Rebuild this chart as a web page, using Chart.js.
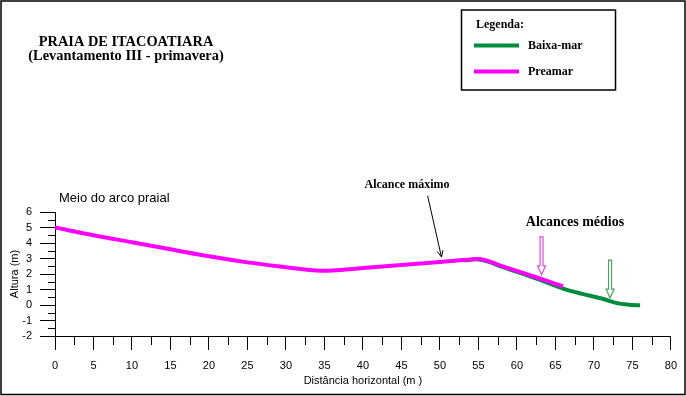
<!DOCTYPE html>
<html><head><meta charset="utf-8">
<script src="https://cdn.jsdelivr.net/npm/chart.js@4/dist/chart.umd.min.js"></script>
<style>html,body{margin:0;padding:0;background:#fff;} #wrap{width:686px;height:396px;position:relative;}</style>
</head><body><div id="wrap"><canvas id="c" width="686" height="396"></canvas></div>
<script>
// ---- data ----
const preamarX = [0, 5, 10, 15, 20, 25, 30, 34, 36, 40, 45, 50, 53, 55, 56.5, 58, 62, 66];
const preamarY = [5.0, 4.5, 4.05, 3.6, 3.14, 2.75, 2.44, 2.22, 2.22, 2.38, 2.58, 2.78, 2.9, 2.96, 2.8, 2.52, 1.87, 1.2];
const baixaX = [53, 55, 56.5, 58, 62, 66, 68.5, 71, 73, 74.5, 76];
const baixaY = [2.88, 2.94, 2.77, 2.47, 1.8, 1.06, 0.72, 0.42, 0.12, 0.02, -0.02];
const seriesNames = ['Preamar', 'Baixa-mar'];
const xTickStep = 5, yTickStep = 1;
const titleLines = ['PRAIA DE ITACOATIARA', '(Levantamento III - primavera)'];
const xTitle = 'Distância horizontal (m )';
const yTitle = 'Altura (m)';
// annotation anchors in data units
const maxArrowFrom = [48.4, 7.05], maxArrowTo = [50.2, 3.1];
const preamarArrow = [63.2, 4.4, 1.95];
const baixaArrow = [72.1, 2.9, 0.45];

const MAG = '#FF00FF', GRN = '#008C3C';
const toPts = (xs, ys) => xs.map((x, i) => ({x, y: ys[i]}));

const deco = {
  id: 'deco',
  beforeDraw(chart) {
    const c = chart.ctx; c.save(); c.fillStyle = '#fff'; c.fillRect(0, 0, chart.width, chart.height); c.restore();
  },
  afterDraw(chart) {
    const c = chart.ctx, xs = chart.scales.x, ys = chart.scales.y;
    const ca = chart.chartArea;
    c.save();
    // minor ticks
    c.strokeStyle = '#000'; c.lineWidth = 1;
    for (let v = 2.5; v < 80; v += 5) {
      const px = Math.round(xs.getPixelForValue(v)) + 0.5;
      c.beginPath(); c.moveTo(px, ca.bottom); c.lineTo(px, ca.bottom + 9); c.stroke();
    }
    for (let v = -1.5; v < 6; v += 1) {
      const py = Math.round(ys.getPixelForValue(v)) + 0.5;
      c.beginPath(); c.moveTo(ca.left, py); c.lineTo(ca.left - 7, py); c.stroke();
    }
    // outer frame
    c.lineWidth = 1.5; c.strokeRect(1, 1, 684, 393.5);
    // titles
    c.fillStyle = '#000'; c.textAlign = 'center'; c.textBaseline = 'middle';
    c.font = 'bold 14.4px "Liberation Serif"';
    c.fillText(titleLines[0], 126, 42);
    c.fillText(titleLines[1], 126, 56);
    // Meio do arco praial
    c.textAlign = 'left'; c.font = '13px "Liberation Sans"';
    c.fillText('Meio do arco praial', 59, 198);
    // Alcance maximo
    c.textAlign = 'center'; c.font = 'bold 12px "Liberation Serif"';
    c.fillText('Alcance máximo', 407, 185);
    c.font = 'bold 14px "Liberation Serif"';
    c.fillText('Alcances médios', 575, 222);
    // black arrow
    const ax1 = xs.getPixelForValue(maxArrowFrom[0]), ay1 = ys.getPixelForValue(maxArrowFrom[1]);
    const ax2 = xs.getPixelForValue(maxArrowTo[0]), ay2 = ys.getPixelForValue(maxArrowTo[1]);
    c.strokeStyle = '#000'; c.lineWidth = 1;
    c.beginPath(); c.moveTo(ax1, ay1); c.lineTo(ax2, ay2); c.stroke();
    const ang = Math.atan2(ay2 - ay1, ax2 - ax1);
    c.beginPath();
    c.moveTo(ax2 - 7 * Math.cos(ang - 0.45), ay2 - 7 * Math.sin(ang - 0.45));
    c.lineTo(ax2, ay2);
    c.lineTo(ax2 - 7 * Math.cos(ang + 0.45), ay2 - 7 * Math.sin(ang + 0.45));
    c.stroke();
    // hollow arrows
    const hollow = (a, col) => {
      const x = xs.getPixelForValue(a[0]), y1 = ys.getPixelForValue(a[1]), y2 = ys.getPixelForValue(a[2]);
      c.strokeStyle = col; c.lineWidth = 1.2;
      c.beginPath();
      c.moveTo(x - 1.5, y1); c.lineTo(x - 1.5, y2 - 9); c.lineTo(x - 4, y2 - 9); c.lineTo(x, y2);
      c.lineTo(x + 4, y2 - 9); c.lineTo(x + 1.5, y2 - 9); c.lineTo(x + 1.5, y1); c.closePath();
      c.stroke();
    };
    hollow(preamarArrow, '#E24FE2');
    hollow(baixaArrow, '#4FA25F');
    // legend box
    c.strokeStyle = '#000'; c.lineWidth = 1.5;
    c.strokeRect(461.5, 10, 154, 80);
    c.textAlign = 'left'; c.font = 'bold 12px "Liberation Serif"'; c.fillStyle = '#000';
    c.fillText('Legenda:', 476, 25);
    c.lineWidth = 4;
    c.strokeStyle = GRN; c.beginPath(); c.moveTo(474, 45.5); c.lineTo(519, 45.5); c.stroke();
    c.strokeStyle = MAG; c.beginPath(); c.moveTo(474, 71.5); c.lineTo(519, 71.5); c.stroke();
    c.fillText(seriesNames[1], 528, 45.5);
    c.fillText(seriesNames[0], 528, 71.5);
    c.restore();
  }
};

new Chart(document.getElementById('c'), {
  type: 'line',
  data: {
    datasets: [
      { label: seriesNames[0], data: toPts(preamarX, preamarY), borderColor: MAG, borderWidth: 4,
        pointRadius: 0, tension: 0.35, fill: false },
      { label: seriesNames[1], data: toPts(baixaX, baixaY), borderColor: GRN, borderWidth: 4,
        pointRadius: 0, tension: 0.35, fill: false }
    ]
  },
  options: {
    responsive: false, animation: false, devicePixelRatio: 1,
    layout: { padding: { top: 212, right: 15, left: 0, bottom: 0 } },
    plugins: { legend: { display: false }, tooltip: { enabled: false } },
    scales: {
      x: {
        type: 'linear', min: 0, max: 80,
        afterFit: s => { s.height = 60; },
        ticks: { stepSize: xTickStep, color: '#000', padding: 9, font: { family: 'Liberation Sans', size: 11 }, maxRotation: 0, autoSkip: false },
        grid: { display: true, drawOnChartArea: false, drawTicks: true, tickLength: 14, tickColor: '#000' },
        border: { display: true, color: '#000', width: 1 },
        title: { display: true, text: xTitle, color: '#000', font: { family: 'Liberation Sans', size: 11 }, padding: { top: 0, bottom: 8 } }
      },
      y: {
        type: 'linear', min: -2, max: 6,
        afterFit: s => { s.width = 55; },
        ticks: { stepSize: yTickStep, color: '#000', padding: 8, autoSkip: false, font: { family: 'Liberation Sans', size: 11 } },
        grid: { display: true, drawOnChartArea: false, drawTicks: true, tickLength: 15, tickColor: '#000' },
        border: { display: true, color: '#000', width: 1 },
        title: { display: true, text: yTitle, color: '#000', font: { family: 'Liberation Sans', size: 11 }, padding: { top: 8, bottom: 0 } }
      }
    }
  },
  plugins: [deco]
});
</script>
</body></html>
